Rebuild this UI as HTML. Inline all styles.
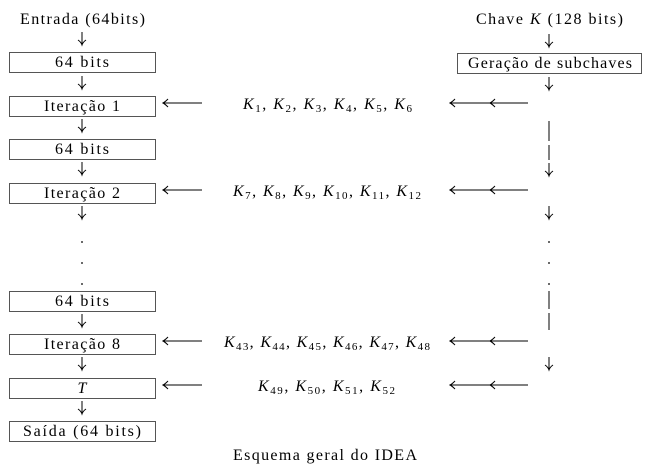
<!DOCTYPE html>
<html><head><meta charset="utf-8"><style>
html,body{margin:0;padding:0;background:#fff;}
svg{display:block;}
text,tspan{font-family:"Liberation Serif","DejaVu Serif",serif;}
text{fill:#000;font-size:16px;}
.b{fill:none;stroke:#555;stroke-width:1}
.a{fill:none;stroke:#000;stroke-width:1}
</style></head><body>
<svg id="s" width="655" height="474" viewBox="0 0 655 474" font-family="Liberation Serif">
<text x="20" y="24" textLength="125" lengthAdjust="spacing">Entrada (64bits)</text>
<text x="476" y="24" textLength="147" lengthAdjust="spacing">Chave <tspan font-style="italic">K</tspan> (128 bits)</text>
<g id="boxes"></g>
<g id="arrows"></g>
<g id="keys" font-style="italic">
<text x="243" y="109" textLength="169" lengthAdjust="spacing">K<tspan font-size="11" dy="3" font-style="normal">1</tspan><tspan dy="-3" font-style="normal">, </tspan>K<tspan font-size="11" dy="3" font-style="normal">2</tspan><tspan dy="-3" font-style="normal">, </tspan>K<tspan font-size="11" dy="3" font-style="normal">3</tspan><tspan dy="-3" font-style="normal">, </tspan>K<tspan font-size="11" dy="3" font-style="normal">4</tspan><tspan dy="-3" font-style="normal">, </tspan>K<tspan font-size="11" dy="3" font-style="normal">5</tspan><tspan dy="-3" font-style="normal">, </tspan>K<tspan font-size="11" dy="3" font-style="normal">6</tspan></text>
<text x="233" y="196" textLength="188" lengthAdjust="spacing">K<tspan font-size="11" dy="3" font-style="normal">7</tspan><tspan dy="-3" font-style="normal">, </tspan>K<tspan font-size="11" dy="3" font-style="normal">8</tspan><tspan dy="-3" font-style="normal">, </tspan>K<tspan font-size="11" dy="3" font-style="normal">9</tspan><tspan dy="-3" font-style="normal">, </tspan>K<tspan font-size="11" dy="3" font-style="normal">10</tspan><tspan dy="-3" font-style="normal">, </tspan>K<tspan font-size="11" dy="3" font-style="normal">11</tspan><tspan dy="-3" font-style="normal">, </tspan>K<tspan font-size="11" dy="3" font-style="normal">12</tspan></text>
<text x="224" y="347" textLength="206" lengthAdjust="spacing">K<tspan font-size="11" dy="3" font-style="normal">43</tspan><tspan dy="-3" font-style="normal">, </tspan>K<tspan font-size="11" dy="3" font-style="normal">44</tspan><tspan dy="-3" font-style="normal">, </tspan>K<tspan font-size="11" dy="3" font-style="normal">45</tspan><tspan dy="-3" font-style="normal">, </tspan>K<tspan font-size="11" dy="3" font-style="normal">46</tspan><tspan dy="-3" font-style="normal">, </tspan>K<tspan font-size="11" dy="3" font-style="normal">47</tspan><tspan dy="-3" font-style="normal">, </tspan>K<tspan font-size="11" dy="3" font-style="normal">48</tspan></text>
<text x="258" y="391" textLength="137" lengthAdjust="spacing">K<tspan font-size="11" dy="3" font-style="normal">49</tspan><tspan dy="-3" font-style="normal">, </tspan>K<tspan font-size="11" dy="3" font-style="normal">50</tspan><tspan dy="-3" font-style="normal">, </tspan>K<tspan font-size="11" dy="3" font-style="normal">51</tspan><tspan dy="-3" font-style="normal">, </tspan>K<tspan font-size="11" dy="3" font-style="normal">52</tspan></text>
</g>
<text x="233" y="460" textLength="184" lengthAdjust="spacing">Esquema geral do IDEA</text>
</svg>
<script>
const NS="http://www.w3.org/2000/svg";
const boxLabels=["64 bits","Iteração 1","64 bits","Iteração 2","64 bits","Iteração 8","T","Saída (64 bits)"];
const boxTops=[52,96,139,183,291,334,378,421];
const boxTextW=[54,76,54,76,54,76,0,118];
const bg=document.getElementById('boxes'), ag=document.getElementById('arrows');
function mk(tag,attrs,parent){const e=document.createElementNS(NS,tag);for(const k in attrs)e.setAttribute(k,attrs[k]);parent.appendChild(e);return e;}
boxLabels.forEach((l,i)=>{
  const r=mk('rect',{x:9.5,y:boxTops[i]+0.5,width:146,height:20,class:'b'},bg);
  
  
  let t;
  if(boxTextW[i]>0){t=mk('text',{x:82-boxTextW[i]/2,y:boxTops[i]+15,textLength:boxTextW[i],lengthAdjust:'spacing'},bg);}
  else{t=mk('text',{x:82,y:boxTops[i]+15,'text-anchor':'middle','font-style':'italic'},bg);}
  t.textContent=l;
  
  
});
const g=mk('rect',{x:457.5,y:53.5,width:184,height:20,class:'b'},bg);


const gt=mk('text',{x:468,y:68,textLength:164,lengthAdjust:'spacing'},bg);gt.textContent='Geração de subchaves';


function down(x,y){const p=mk('path',{d:`M${x} ${y}V${y+13}M${x-4} ${y+8}Q${x-1} ${y+10} ${x} ${y+13}Q${x+1} ${y+10} ${x+4} ${y+8}`,class:'a'},ag);
  
  }
function left(x1,x2,y){const p=mk('path',{d:`M${x2} ${y}H${x1}M${x1+5} ${y-4}Q${x1+2} ${y-1} ${x1} ${y}Q${x1+2} ${y+1} ${x1+5} ${y+4}`,class:'a'},ag);
  
  }
function dot(x,y){const c=mk('circle',{cx:x,cy:y,r:0.9},ag);
  
  }
function bar(x,y1,y2){const p=mk('path',{d:`M${x} ${y1}V${y2}`,class:'a'},ag);
  
  }
[32,76,119,162,206,314,357,401].forEach(y=>down(82,y));
[242,263,284].forEach(y=>dot(82,y));
[103,190,341,385].forEach(y=>{left(163,202,y);left(450,490,y);left(490,528,y);});
[34,77,163,206,357].forEach(y=>down(549,y));
bar(549,121,141);bar(549,145,160);bar(549,291,309);bar(549,313,330);
[242,263,284].forEach(y=>dot(549,y));
</script>
</body></html>
